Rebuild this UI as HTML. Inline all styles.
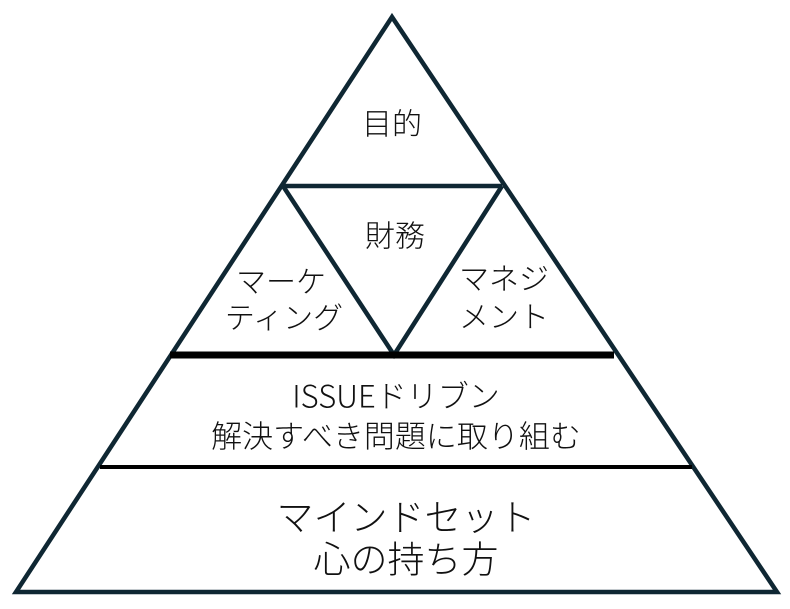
<!DOCTYPE html>
<html><head><meta charset="utf-8"><style>
html,body{margin:0;padding:0;background:#fff;width:790px;height:609px;overflow:hidden}
svg text{font-family:"Liberation Sans","Noto Sans CJK JP",sans-serif;font-weight:300;fill:#111;text-anchor:middle;dominant-baseline:central}
svg text.n{font-family:"Noto Sans CJK JP",sans-serif}
</style></head><body>
<svg width="790" height="609" viewBox="0 0 790 609" xmlns="http://www.w3.org/2000/svg">
<g stroke="#0f2733" stroke-width="4.5" fill="none" stroke-linejoin="miter">
<polygon points="392,17 16,592 777,592"/>
<line x1="283" y1="186" x2="502" y2="186"/>
<polyline points="283,186 394,355 502,186"/>
</g>
<line x1="170" y1="355" x2="614" y2="355" stroke="#000" stroke-width="7"/>
<line x1="100" y1="467" x2="692" y2="467" stroke="#000" stroke-width="4"/>
<g font-size="30">
<text x="392" y="125">目的</text>
<text x="395" y="237">財務</text>
<text x="281" y="283">マーケ</text>
<text x="284" y="319">ティング</text>
<text x="504" y="280">マネジ</text>
<text x="504" y="318">メント</text>
</g>
<g font-size="31">
<text class="n" x="396" y="394">ISSUEドリブン</text>
<text x="396" y="437">解決すべき問題に取り組む</text>
</g>
<g font-size="37">
<text x="406" y="518">マインドセット</text>
<text x="406" y="560">心の持ち方</text>
</g>
</svg>
</body></html>
